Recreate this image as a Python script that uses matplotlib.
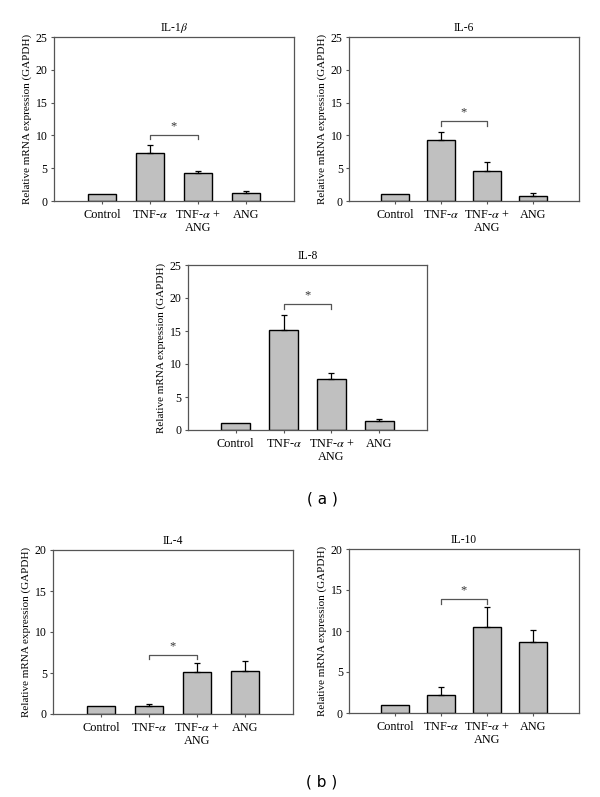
import numpy as np
import matplotlib
matplotlib.use('agg')
import matplotlib.pyplot as plt

# Group labels (same for every panel)
groups = ['Control', 'TNF-$\\alpha$', 'TNF-$\\alpha$ +\nANG', 'ANG']

# Relative mRNA expression (mean) and upper error per cytokine
il1b_mean = [1.0, 7.3, 4.2, 1.27]
il1b_err = [0.0, 1.3, 0.3, 0.23]
il6_mean = [1.0, 9.35, 4.62, 0.76]
il6_err = [0.0, 1.22, 1.38, 0.41]
il8_mean = [1.0, 15.2, 7.66, 1.31]
il8_err = [0.0, 2.2, 0.94, 0.35]
il4_mean = [1.0, 1.0, 5.08, 5.2]
il4_err = [0.0, 0.2, 1.12, 1.26]
il10_mean = [1.0, 2.25, 10.5, 8.7]
il10_err = [0.0, 0.95, 2.46, 1.4]

# significance brackets: (bar a, bar b, top, bottom)
il1b_sig = (1, 2, 10.1, 9.4)
il6_sig = (1, 2, 12.2, 11.4)
il8_sig = (1, 2, 19.1, 18.3)
il4_sig = (1, 2, 7.2, 6.7)
il10_sig = (1, 2, 13.9, 13.3)

plt.rcParams['font.family'] = ['Liberation Serif', 'DejaVu Serif']
plt.rcParams['mathtext.fontset'] = 'stix'

W, H = 600, 797
fig = plt.figure(figsize=(W / 100, H / 100), dpi=100)


def px_axes(left, right, top, bottom):
    return fig.add_axes([left / W, 1 - bottom / H, (right - left) / W, (bottom - top) / H])


def panel(ax, title, mean, err, sig, ymax):
    x = np.arange(len(groups))
    ax.bar(x, mean, width=0.6, color='#c0c0c0', edgecolor='black', linewidth=1.0, zorder=2)
    err = np.array(err)
    m = err > 0
    ax.errorbar(x[m], np.array(mean)[m], yerr=[np.zeros(m.sum()), err[m]], fmt='none',
                ecolor='black', elinewidth=0.9, capsize=2.5, capthick=0.9, zorder=3)
    a, b, top, bot = sig
    ax.plot([a, a, b, b], [bot, top, top, bot], color='#555555', lw=0.9, zorder=3)
    ax.text((a + b) / 2, top + ymax * 0.015, '*', ha='center', va='bottom', fontsize=9, color='#333333')
    ax.set_xlim(-1, 4)
    ax.set_ylim(0, ymax)
    ax.set_yticks(np.arange(0, ymax + 1, 5))
    ax.set_xticks(x)
    ax.set_xticklabels(groups, fontsize=8.8, linespacing=1.1)
    ax.tick_params(axis='y', labelsize=8.5, length=2.5, width=0.8, color='#555555', pad=2)
    ax.tick_params(axis='x', length=2.5, width=0.8, color='#555555', pad=3)
    for s in ax.spines.values():
        s.set_color('#555555')
        s.set_linewidth(0.9)
    ax.set_ylabel('Relative mRNA expression (GAPDH)', fontsize=8, labelpad=3)
    ax.set_title(title, fontsize=8.3, pad=4)


panel(px_axes(54, 294, 37, 201), 'IL-1$\\beta$', il1b_mean, il1b_err, il1b_sig, 25)
panel(px_axes(349, 579, 37, 201), 'IL-6', il6_mean, il6_err, il6_sig, 25)
panel(px_axes(188, 427, 265, 430), 'IL-8', il8_mean, il8_err, il8_sig, 25)
panel(px_axes(53, 293, 550, 714), 'IL-4', il4_mean, il4_err, il4_sig, 20)
panel(px_axes(349, 579, 549, 713), 'IL-10', il10_mean, il10_err, il10_sig, 20)

fig.text(322 / W, 1 - 499 / H, '( a )', ha='center', va='center', fontsize=11, family='DejaVu Sans')
fig.text(322 / W, 1 - 782 / H, '( b )', ha='center', va='center', fontsize=11, family='DejaVu Sans')

fig.savefig('out.png', dpi=100)
